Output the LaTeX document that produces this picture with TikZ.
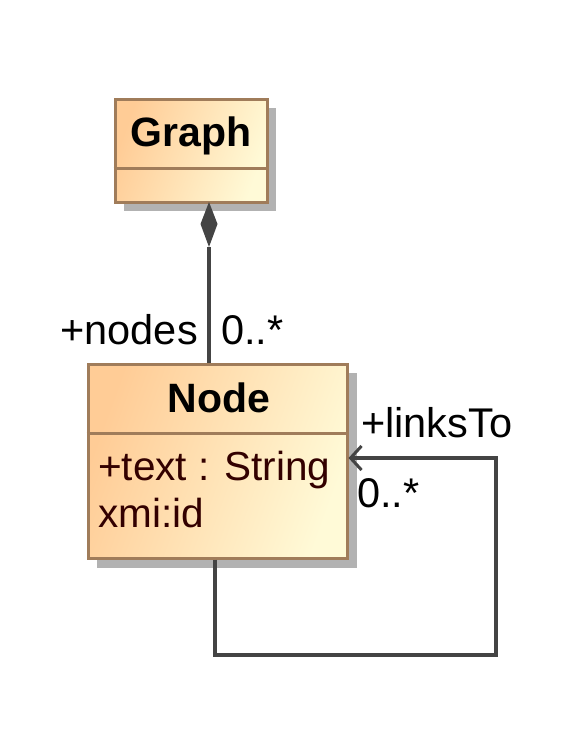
\documentclass[tikz,border=0pt]{standalone}
\usepackage{fontspec}
\setmainfont{Liberation Sans}
\usetikzlibrary{arrows.meta,calc}
\definecolor{boxborder}{RGB}{160,124,90}
\definecolor{boxtl}{RGB}{255,204,150}
\definecolor{boxbr}{RGB}{255,250,215}
\definecolor{shadowgray}{RGB}{178,178,178}
\definecolor{linkgray}{RGB}{68,68,68}
\definecolor{attrcol}{RGB}{51,0,0}
\tikzset{
  classbox/.style={draw=boxborder, line width=3pt, rectangle, inner sep=0pt,
    left color=boxtl, right color=boxbr, shading angle=70},
  divider/.style={draw=boxborder, line width=3pt},
  conn/.style={draw=linkgray, line width=3.2pt},
  lbl/.style={inner sep=0pt, anchor=base west, font=\fontsize{41.5}{50}\selectfont},
  lble/.style={inner sep=0pt, anchor=base east, font=\fontsize{41.5}{50}\selectfont},
  title/.style={inner sep=0pt, anchor=base, font=\fontsize{41}{50}\selectfont\bfseries},
  attr/.style={inner sep=0pt, anchor=base west, font=\fontsize{40.5}{50}\selectfont, text=attrcol}
}
\begin{document}
\begin{tikzpicture}[x=1pt,y=-1pt]
\useasboundingbox (0,0) rectangle (581,752);
% shadows
\fill[shadowgray] (124,108) rectangle (276,211);
\fill[shadowgray] (97,373) rectangle (357,568);
% Graph box
\node[classbox, minimum width=152pt, minimum height=103pt] (graph) at (191,150.5) {};
\draw[divider] (graph.west |- 0,168) -- (graph.east |- 0,168);
\node[title] (graphlbl) at (191,146) {Graph};
% Node box
\node[classbox, minimum width=259pt, minimum height=194pt] (node) at (217.5,461) {};
\draw[divider] (node.west |- 0,433) -- (node.east |- 0,433);
\node[title] (nodelbl) at (219,412) {Node};
\node[attr] (attr1) at (98,480) {+text : String};
\node[attr] (attr2) at (98,527) {xmi:id};
% composition
\coordinate (dtop) at (209,202);
\coordinate (dtip) at (209,247);
\fill[linkgray] (dtop) -- (217.5,224) -- (dtip) -- (200.5,224) -- cycle;
\draw[conn] (dtip) -- (node.north -| dtip);
\node[lble] (nodesrole) at (198,344) {+nodes};
\node[lbl] (nodesmult) at (221,344) {0..*};
% self association
\coordinate (c1) at (215,655);
\coordinate (c2) at (496,655);
\coordinate (c3) at (496,458);
\draw[conn, -{Straight Barb[length=11pt,width=24pt,line width=3pt]}] (node.south -| c1) -- (c1) -- (c2) -- (c3) -- (node.east |- c3);
\node[lbl] (linksrole) at (361,437) {+linksTo};
\node[lbl] (linksmult) at (357,507) {0..*};
\end{tikzpicture}
\end{document}
